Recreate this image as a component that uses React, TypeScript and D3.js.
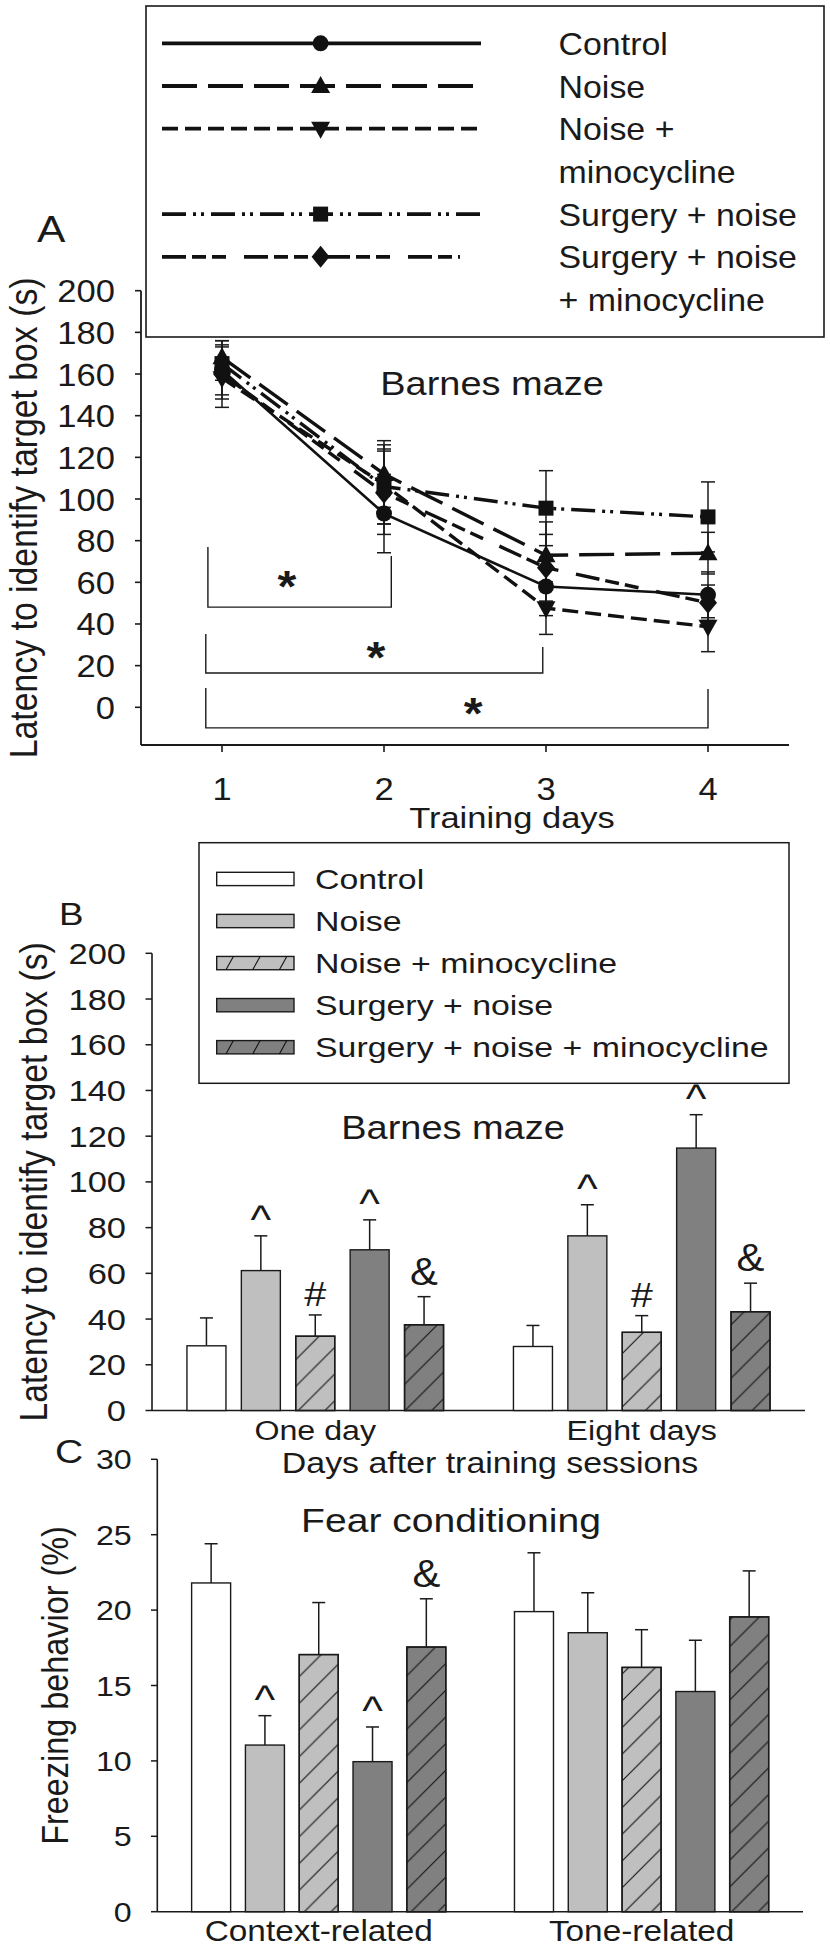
import React from "react";
import * as d3 from "d3";

// ---------- DATA ----------
const SERIES = ["Control", "Noise", "Noise + minocycline", "Surgery + noise", "Surgery + noise + minocycline"];

// Panel A: Barnes maze training
const DAYS = [1, 2, 3, 4];
const DAY_TICKS = [1, 2, 3, 4];
const A_YTICKS = [0, 20, 40, 60, 80, 100, 120, 140, 160, 180, 200];
const A_LEGEND_LINES = [["Control"], ["Noise"], ["Noise +", "minocycline"], ["Surgery +  noise"], ["Surgery + noise", "+ minocycline"]];
const controlA = [162, 93, 58, 54];
const controlAErr = [14, 18.8, 14, 11];
const noiseA = [168, 112, 73, 74];
const noiseAErr = [6, 16, 16, 10];
const noiseMinoA = [158, 107, 47.6, 38.7];
const noiseMinoAErr = [8, 19, 12.6, 12];
const surgNoiseA = [165, 106, 95.6, 91.4];
const surgNoiseAErr = [8, 18, 18, 16.8];
const surgNoiseMinoA = [160, 103, 67, 50.2];
const surgNoiseMinoAErr = [16, 20, 16, 8.5];
// significance brackets
const bracketFrom = [0.913, 0.9, 0.9];
const bracketTo = [2.045, 2.98, 4.0];
const bracketY = [48.1, 16.5, -9.9];
const bracketLeftTop = [76.9, 35.2, 9.3];
const bracketRightTop = [72.6, 28.9, 8.8];
const starX = [1.4, 1.95, 2.55];
const starY = [60, 26, -1];

// Panel B: Barnes maze retention
const B_GROUPS = ["One day", "Eight days"];
const B_YTICKS = [0, 20, 40, 60, 80, 100, 120, 140, 160, 180, 200];
const controlB = [28.3, 28];
const controlBErr = [12.2, 9.2];
const noiseB = [61.2, 76.4];
const noiseBErr = [15.2, 13.6];
const noiseMinoB = [32.5, 34.2];
const noiseMinoBErr = [9.3, 7.3];
const surgNoiseB = [70.3, 114.8];
const surgNoiseBErr = [13.1, 14.6];
const surgNoiseMinoB = [37.5, 43.2];
const surgNoiseMinoBErr = [12.3, 12.5];
const B_MARKS = [["", "^", "#", "^", "&"], ["", "^", "#", "^", "&"]];

// Panel C: Fear conditioning
const C_GROUPS = ["Context-related", "Tone-related"];
const C_YTICKS = [0, 5, 10, 15, 20, 25, 30];
const controlC = [21.8, 19.9];
const controlCErr = [2.6, 3.9];
const noiseC = [11.05, 18.5];
const noiseCErr = [1.95, 2.65];
const noiseMinoC = [17.05, 16.2];
const noiseMinoCErr = [3.45, 2.5];
const surgNoiseC = [9.95, 14.6];
const surgNoiseCErr = [2.3, 3.4];
const surgNoiseMinoC = [17.55, 19.55];
const surgNoiseMinoCErr = [3.2, 3.05];
const C_MARKS = [["", "^", "", "^", "&"], ["", "", "", "", ""]];

// ---------- STYLE ----------
const FONT = "'Liberation Sans', Arial, Helvetica, sans-serif";
const INK = "#1a1a1a";
const LIGHT = "#bfbfbf";
const DARK = "#808080";
const FILLS = ["#ffffff", LIGHT, LIGHT, DARK, DARK];
const HATCH = [false, false, true, false, true];
const MARKERS = ["circle", "triUp", "triDown", "square", "diamond"];
const DASHES = ["none", "35 11", "16 7", "24 7 3 5 3 7", "24 6 14 6 14 18"];

function T({ x, y, fs, anchor = "start", sx = 1.15, rot = false, weight = "normal", children }: any) {
  const tr = `translate(${x},${y}) scale(${sx},1)` + (rot ? " rotate(-90)" : "");
  return (
    <text transform={tr} fontSize={fs} textAnchor={anchor} fontFamily={FONT} fill={INK} fontWeight={weight}>
      {children}
    </text>
  );
}

function markerPath(type: string) {
  switch (type) {
    case "circle":
      return "M8,0A8,8 0 1,1 -8,0A8,8 0 1,1 8,0Z";
    case "triUp":
      return "M0,-10L9.5,7L-9.5,7Z";
    case "triDown":
      return "M0,10L9.5,-7L-9.5,-7Z";
    case "square":
      return "M-7.5,-7.5H7.5V7.5H-7.5Z";
    default:
      return "M0,-11L9,0L0,11L-9,0Z";
  }
}

export default function App() {
  // ---------- Panel A scales ----------
  const xA = d3.scaleLinear().domain([0.5, 4.5]).range([141, 789]);
  const yA = d3.scaleLinear().domain([0, 200]).range([707.3, 290.7]);
  const yABottom = yA(-18.1);
  const aMeans = [controlA, noiseA, noiseMinoA, surgNoiseA, surgNoiseMinoA];
  const aErrs = [controlAErr, noiseAErr, noiseMinoAErr, surgNoiseAErr, surgNoiseMinoAErr];
  const line = d3
    .line<number>()
    .x((_, i) => xA(DAYS[i]))
    .y((d) => yA(d));

  // ---------- Panel B scales ----------
  const xB = d3.scaleBand().domain(B_GROUPS).range([152, 805]);
  const innerB = d3.scaleBand().domain(SERIES).range([-136, 136]).paddingInner(0.283).paddingOuter(0.1415);
  const yB = d3.scaleLinear().domain([0, 200]).range([1410.5, 953.3]);
  const bMeans = [controlB, noiseB, noiseMinoB, surgNoiseB, surgNoiseMinoB];
  const bErrs = [controlBErr, noiseBErr, noiseMinoBErr, surgNoiseBErr, surgNoiseMinoBErr];

  // ---------- Panel C scales ----------
  const xC = d3.scaleBand().domain(C_GROUPS).range([157.3, 803]);
  const innerC = d3.scaleBand().domain(SERIES).range([-134.5, 134.5]).paddingInner(0.275).paddingOuter(0.1375);
  const yC = d3.scaleLinear().domain([0, 30]).range([1911.7, 1459.3]);
  const cMeans = [controlC, noiseC, noiseMinoC, surgNoiseC, surgNoiseMinoC];
  const cErrs = [controlCErr, noiseCErr, noiseMinoCErr, surgNoiseCErr, surgNoiseMinoCErr];

  const markFs: any = { "^": 40, "#": 36, "&": 38 };
  const markOff: any = { "^": 3, "#": 9, "&": 12 };

  function bars(groups: string[], xs: any, inner: any, ys: any, means: number[][], errs: number[][], marks: string[][]) {
    const out: any[] = [];
    groups.forEach((g, gi) => {
      SERIES.forEach((s, si) => {
        const x0 = xs(g)! + xs.bandwidth() / 2 + inner(s)!;
        const w = inner.bandwidth();
        const v = means[si][gi];
        const e = errs[si][gi];
        const top = ys(v);
        const etop = ys(v + e);
        const cx = x0 + w / 2;
        out.push(
          <g key={g + s}>
            <line x1={cx} x2={cx} y1={top} y2={etop} stroke={INK} strokeWidth={1.5} />
            <line x1={cx - 6.5} x2={cx + 6.5} y1={etop} y2={etop} stroke={INK} strokeWidth={1.5} />
            <rect x={x0} y={top} width={w} height={ys(0) - top} fill={FILLS[si]} stroke={INK} strokeWidth={1.4} />
            {HATCH[si] && <rect x={x0} y={top} width={w} height={ys(0) - top} fill="url(#hatch)" stroke={INK} strokeWidth={1.4} />}
            {marks[gi][si] && (
              <T x={cx} y={etop - markOff[marks[gi][si]]} fs={markFs[marks[gi][si]]} anchor="middle" sx={1.1}>
                {marks[gi][si]}
              </T>
            )}
          </g>
        );
      });
    });
    return out;
  }

  let legendRow = 0;
  const legendRowH = 42.7;

  return (
    <svg width={830} height={1950} style={{ display: "block", position: "absolute", left: 0, top: 0 }}>
      <defs>
        <pattern id="hatch" patternUnits="userSpaceOnUse" width={26.7} height={26.7}>
          <path d="M0,26.7L26.7,0M-6.7,6.7L6.7,-6.7M20,33.4L33.4,20" stroke="#111" strokeWidth={1.1} />
        </pattern>
      </defs>
      <rect width={830} height={1950} fill="#fff" />

      {/* ================= Panel A ================= */}
      <T x={37} y={242} fs={37}>A</T>
      <line x1={141} x2={141} y1={yA(200)} y2={yABottom} stroke={INK} strokeWidth={1.8} />
      <line x1={141} x2={789} y1={yABottom} y2={yABottom} stroke={INK} strokeWidth={1.8} />
      {A_YTICKS.map((t) => (
        <g key={"ay" + t}>
          <line x1={135} x2={141} y1={yA(t)} y2={yA(t)} stroke={INK} strokeWidth={1.6} />
          <T x={115} y={yA(t) + 11.5} fs={32} anchor="end" sx={1.08}>{t}</T>
        </g>
      ))}
      {DAY_TICKS.map((t) => (
        <g key={"ax" + t}>
          <line x1={xA(t)} x2={xA(t)} y1={yABottom} y2={yABottom + 7} stroke={INK} strokeWidth={1.6} />
          <T x={xA(t)} y={800} fs={32} anchor="middle" sx={1.08}>{t}</T>
        </g>
      ))}
      <T x={512} y={828} fs={30} anchor="middle">Training days</T>
      <T x={37} y={yA(-18.1 + 218.1 / 2)} fs={33.8} anchor="middle" sx={1.15} rot>
        Latency to identify target box (s)
      </T>
      <T x={492} y={395} fs={33} anchor="middle">Barnes maze</T>

      {/* brackets */}
      {bracketY.map((b, i) => (
        <g key={"br" + i}>
          <path
            d={`M${xA(bracketFrom[i])},${yA(bracketLeftTop[i])}V${yA(b)}H${xA(bracketTo[i])}V${yA(bracketRightTop[i])}`}
            fill="none"
            stroke={INK}
            strokeWidth={1.4}
          />
          <T x={xA(starX[i])} y={yA(starY[i]) + 20} fs={44} anchor="middle" sx={1.1} weight="bold">*</T>
        </g>
      ))}

      {/* error bars */}
      {aMeans.map((m, si) =>
        m.map((v, di) => {
          const x = xA(DAYS[di]);
          const e = aErrs[si][di];
          return (
            <g key={"ae" + si + di}>
              <line x1={x} x2={x} y1={yA(v - e)} y2={yA(v + e)} stroke={INK} strokeWidth={1.5} />
              <line x1={x - 7} x2={x + 7} y1={yA(v - e)} y2={yA(v - e)} stroke={INK} strokeWidth={1.5} />
              <line x1={x - 7} x2={x + 7} y1={yA(v + e)} y2={yA(v + e)} stroke={INK} strokeWidth={1.5} />
            </g>
          );
        })
      )}
      {aMeans.map((m, si) => (
        <path key={"al" + si} d={line(m)!} fill="none" stroke="#111" strokeWidth={si === 0 ? 2.6 : 3.4} strokeDasharray={DASHES[si]} />
      ))}
      {aMeans.map((m, si) =>
        m.map((v, di) => (
          <path key={"am" + si + di} d={markerPath(MARKERS[si])} transform={`translate(${xA(DAYS[di])},${yA(v)})`} fill="#111" />
        ))
      )}

      {/* legend A */}
      <rect x={146} y={6} width={678} height={331} fill="#fff" stroke={INK} strokeWidth={1.6} />
      {A_LEGEND_LINES.map((lines, si) => {
        const yRow = 43.3 + legendRow * legendRowH;
        legendRow += lines.length;
        return (
          <g key={"la" + si}>
            <line x1={162} x2={si === 4 ? 460 : 481} y1={yRow} y2={yRow} stroke="#111" strokeWidth={3.8} strokeDasharray={DASHES[si]} />
            <path d={markerPath(MARKERS[si])} transform={`translate(320.6,${yRow})`} fill="#111" />
            {lines.map((l, li) => (
              <T key={li} x={558.5} y={yRow + li * legendRowH + 11.5} fs={32} sx={1.06}>{l}</T>
            ))}
          </g>
        );
      })}

      {/* ================= Panel B ================= */}
      <T x={59} y={925} fs={32}>B</T>
      <line x1={152} x2={152} y1={yB(200)} y2={yB(0)} stroke={INK} strokeWidth={1.6} />
      <line x1={152} x2={805} y1={yB(0)} y2={yB(0)} stroke={INK} strokeWidth={1.6} />
      {B_YTICKS.map((t) => (
        <g key={"by" + t}>
          <line x1={145.5} x2={152} y1={yB(t)} y2={yB(t)} stroke={INK} strokeWidth={1.5} />
          <T x={126} y={yB(t) + 10.5} fs={30} anchor="end">{t}</T>
        </g>
      ))}
      {bars(B_GROUPS, xB, innerB, yB, bMeans, bErrs, B_MARKS)}
      {B_GROUPS.map((g) => (
        <T key={g} x={xB(g)! + xB.bandwidth() / 2} y={1440} fs={28} anchor="middle">{g}</T>
      ))}
      <T x={490} y={1473} fs={29.5} anchor="middle">Days after training sessions</T>
      <T x={47} y={(yB(0) + yB(200)) / 2} fs={33.7} anchor="middle" rot>Latency to identify target box (s)</T>
      <T x={453} y={1138.5} fs={33} anchor="middle">Barnes maze</T>

      {/* legend B */}
      <rect x={199} y={842.7} width={590} height={240.6} fill="#fff" stroke={INK} strokeWidth={1.5} />
      {SERIES.map((s, si) => {
        const yc = 879 + si * 42.07;
        return (
          <g key={"lb" + s}>
            <rect x={216.7} y={yc - 6.7} width={77.3} height={13.3} fill={FILLS[si]} stroke={INK} strokeWidth={1.4} />
            {HATCH[si] &&
              [0, 1, 2].map((k) => (
                <line key={k} x1={216.7 + 9.3 + k * 26.7} y1={yc + 6.7} x2={216.7 + 16.7 + k * 26.7} y2={yc - 6.7} stroke="#111" strokeWidth={1.1} />
              ))}
            <T x={315} y={yc + 10} fs={28} sx={1.21}>{s}</T>
          </g>
        );
      })}

      {/* ================= Panel C ================= */}
      <T x={55} y={1463} fs={34}>C</T>
      <line x1={157.3} x2={157.3} y1={yC(30)} y2={yC(0)} stroke={INK} strokeWidth={1.6} />
      <line x1={157.3} x2={803} y1={yC(0)} y2={yC(0)} stroke={INK} strokeWidth={1.6} />
      {C_YTICKS.map((t) => (
        <g key={"cy" + t}>
          <line x1={151} x2={157.3} y1={yC(t)} y2={yC(t)} stroke={INK} strokeWidth={1.5} />
          <T x={131.7} y={yC(t) + 10} fs={28} anchor="end">{t}</T>
        </g>
      ))}
      {bars(C_GROUPS, xC, innerC, yC, cMeans, cErrs, C_MARKS)}
      {C_GROUPS.map((g) => (
        <T key={g} x={xC(g)! + xC.bandwidth() / 2} y={1941} fs={29} anchor="middle">{g}</T>
      ))}
      <T x={68} y={(yC(0) + yC(30)) / 2} fs={32.4} anchor="middle" rot>Freezing behavior (%)</T>
      <T x={451} y={1532} fs={34} anchor="middle">Fear conditioning</T>
    </svg>
  );
}
